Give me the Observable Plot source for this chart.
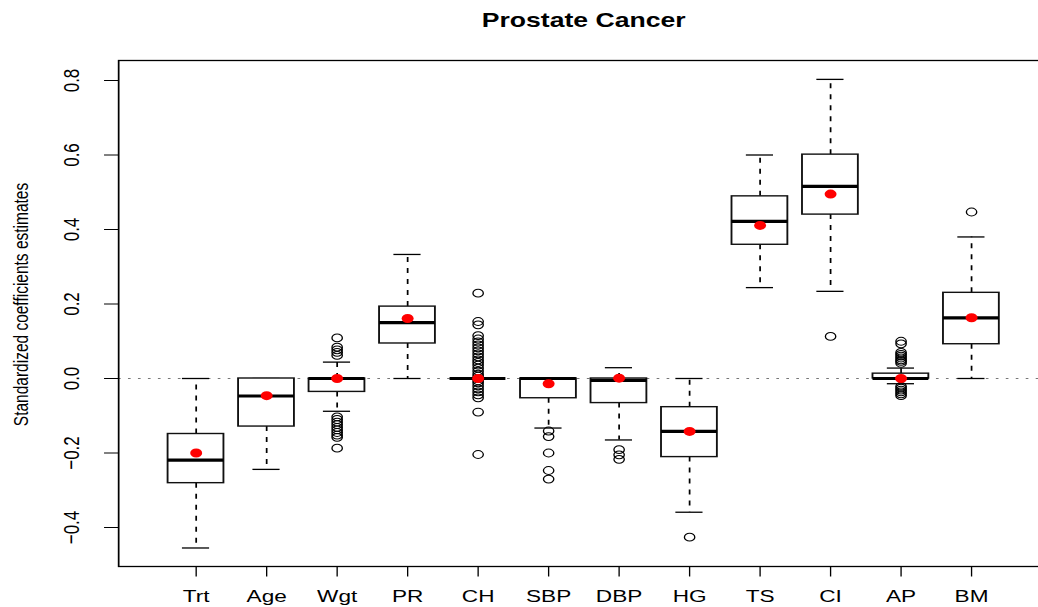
<!DOCTYPE html>
<html>
<head>
<meta charset="utf-8">
<script src="https://cdn.jsdelivr.net/npm/d3@7"></script>
<script src="https://cdn.jsdelivr.net/npm/@observablehq/plot@0.6"></script>
<style>
  html, body { margin: 0; padding: 0; background: #fff; overflow: hidden; }
  #chart { width: 800px; transform: scaleX(1.33); transform-origin: 0 0; }
</style>
</head>
<body>
<div id="chart"></div>
<script>
// Standardized coefficient estimates per covariate (box summaries)
const variables   = ["Trt", "Age", "Wgt", "PR", "CH", "SBP", "DBP", "HG", "TS", "CI", "AP", "BM"];
const whiskerLow  = [-0.455, -0.244, -0.088, 0.000, 0.000, -0.133, -0.165, -0.359, 0.244, 0.234, -0.014, 0.000];
const lowerQuart  = [-0.281, -0.129, -0.036, 0.094, 0.000, -0.053, -0.066, -0.211, 0.359, 0.440,  0.000, 0.092];
const medians     = [-0.219, -0.047,  0.000, 0.150, 0.000,  0.000, -0.005, -0.142, 0.422, 0.516,  0.000, 0.163];
const upperQuart  = [-0.149,  0.000,  0.000, 0.193, 0.000,  0.000,  0.000, -0.077, 0.489, 0.601,  0.013, 0.230];
const whiskerHigh = [ 0.000,  0.000,  0.044, 0.333, 0.000,  0.000,  0.029,  0.000, 0.600, 0.803,  0.028, 0.380];
const means       = [-0.200, -0.046,  0.000, 0.161, 0.000, -0.014,  0.001, -0.142, 0.411, 0.495,  0.000, 0.163];

// Points beyond the whiskers
const outliers = [
  [],
  [],
  [0.109, 0.084, 0.077, 0.070, 0.062, -0.103, -0.110, -0.117, -0.124, -0.131, -0.138, -0.145, -0.152, -0.158, -0.187],
  [],
  [0.229, 0.153, 0.144, 0.115, 0.106, 0.098, 0.090, 0.082, 0.074, 0.066, 0.058, 0.050, 0.043, 0.036, 0.028, 0.020,
   0.012, 0.006, -0.006, -0.012, -0.020, -0.028, -0.036, -0.044, -0.052, -0.090, -0.204],
  [-0.141, -0.156, -0.200, -0.247, -0.270],
  [-0.191, -0.205, -0.217],
  [-0.426],
  [],
  [0.113],
  [0.100, 0.093, 0.070, 0.065, 0.060, 0.055, 0.050, 0.046, 0.041, -0.021, -0.026, -0.031, -0.036, -0.041, -0.046],
  [0.447]
];

const yTicks = [-0.4, -0.2, 0.0, 0.2, 0.4, 0.6, 0.8];

const boxes = variables.map((name, i) => ({
  name, lo: whiskerLow[i], q1: lowerQuart[i], med: medians[i],
  q3: upperQuart[i], hi: whiskerHigh[i], mean: means[i]
}));
const outlierPoints = variables.flatMap((name, i) => outliers[i].map(value => ({name, value})));

// Layout (the drawing is widened horizontally by the container's scaleX)
const stretch = 1.33;
const width = 800, height = 607;
const frameLeft = 118 / stretch, frameRight = 1048 / stretch;
const step = 71.75 / stretch, firstCenter = 188.5 / stretch;
const bandRange = [firstCenter - 0.5 * step, firstCenter + (variables.length - 0.5) * step];
const capInset = 0.2 * step; // staples are half the box width

const font = "'Liberation Sans', Arial, Helvetica, sans-serif";

const chart = Plot.plot({
  width, height,
  marginLeft: frameLeft,
  marginRight: width - frameRight,
  marginTop: 60,
  marginBottom: 41,
  style: {fontFamily: font, fontSize: "17px", color: "#000", background: "#fff"},
  x: {type: "band", domain: variables, range: bandRange, paddingInner: 0.2, paddingOuter: 0.1, align: 0.5},
  y: {domain: [-0.5047, 0.8537]},
  marks: [
    Plot.ruleY([0], {stroke: "#777", strokeWidth: 1, strokeDasharray: "2,5.5"}),
    // dashed whiskers
    Plot.ruleX(boxes, {x: "name", y1: "q3", y2: "hi", stroke: "#000", strokeWidth: 1.3, strokeDasharray: "5,6"}),
    Plot.ruleX(boxes, {x: "name", y1: "q1", y2: "lo", stroke: "#000", strokeWidth: 1.3, strokeDasharray: "5,6"}),
    // staples
    Plot.tickY(boxes, {x: "name", y: "hi", inset: capInset, stroke: "#000", strokeWidth: 1.3}),
    Plot.tickY(boxes, {x: "name", y: "lo", inset: capInset, stroke: "#000", strokeWidth: 1.3}),
    // boxes and medians
    Plot.barY(boxes, {x: "name", y1: "q1", y2: "q3", fill: "white", stroke: "#111", strokeWidth: 1.4}),
    Plot.tickY(boxes, {x: "name", y: "med", stroke: "#000", strokeWidth: 3.2}),
    // outliers and means
    Plot.dot(outlierPoints, {x: "name", y: "value", r: 3.9, fill: "none", stroke: "#000", strokeWidth: 1}),
    Plot.dot(boxes, {x: "name", y: "mean", r: 4.5, fill: "red", stroke: "none"}),
    Plot.frame({stroke: "#000", strokeWidth: 1.3}),
    Plot.axisX({tickSize: 10.5, tickPadding: 13, fontSize: 17, label: null}),
    Plot.axisY({ticks: yTicks, tickFormat: d3.format(".1f"), tickRotate: -90, tickSize: 10.5,
                tickPadding: 19.5, fontSize: 17, label: null}),
    Plot.text(["Standardized coefficients estimates"], {
      text: d => d, frameAnchor: "left", textAnchor: "middle", rotate: -90,
      dx: 15.4 - frameLeft, dy: -9, lineAnchor: "middle", fontSize: 15.5
    }),
    Plot.text(["Prostate Cancer"], {
      text: d => d, frameAnchor: "top", dy: -40, lineAnchor: "middle",
      fontSize: 20, fontWeight: "bold"
    })
  ]
});

document.getElementById("chart").appendChild(chart);
</script>
</body>
</html>
